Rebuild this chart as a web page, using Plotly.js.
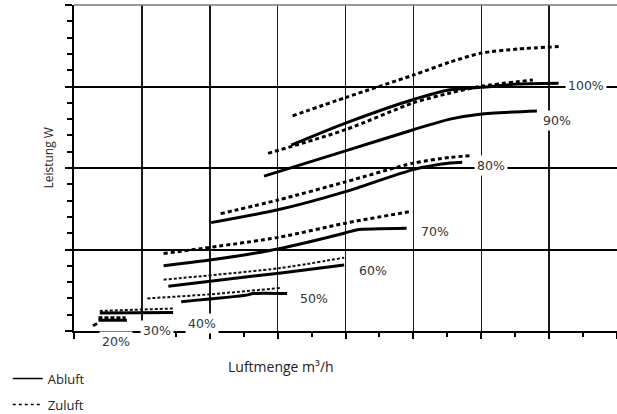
<!DOCTYPE html>
<html>
<head>
<meta charset="utf-8">
<script src="https://cdn.plot.ly/plotly-3.0.1.min.js"></script>
<style>html,body{margin:0;padding:0;background:#fff;}#chart{width:617px;height:414px;}</style>
</head>
<body>
<div id="chart"></div>
<script>
// Abluft (solid) and Zuluft (dotted) curves per fan level; x = Luftmenge m³/h, y = Leistung W
const ab100x = [160, 200, 250, 277, 300, 327, 357];
const ab100y = [114, 127.5, 142, 148, 149.5, 151.5, 152];
const zu100x = [161, 201, 250, 277, 300, 327, 357];
const zu100y = [132, 143.5, 157, 165, 170.5, 173, 174.5];
const ab90x = [140, 200, 250, 277, 299, 341];
const ab90y = [95, 110.5, 123.5, 130, 133, 135];
const zu90x = [143, 200, 250, 277, 299, 338];
const zu90y = [109, 123.5, 140, 146, 150, 154];
const ab80x = [101, 151, 200, 250, 277, 286];
const ab80y = [66.5, 74.5, 85.5, 99, 103, 103.5];
const zu80x = [108, 151, 200, 250, 277, 292];
const zu80y = [72, 80.5, 91.5, 103, 106.5, 107.5];
const ab70x = [66, 100, 151, 199, 208, 245];
const ab70y = [40, 43.5, 50.5, 60, 62, 63];
const zu70x = [66, 151, 199, 249];
const zu70y = [47.5, 57.5, 66, 73.5];
const ab60x = [69.5, 151, 199];
const ab60y = [27.5, 35.5, 40.5];
const zu60x = [66, 151, 199];
const zu60y = [31.5, 38.5, 45];
const ab50x = [79, 127, 132, 157];
const ab50y = [18, 22, 23, 23];
const zu50x = [54, 100, 153];
const zu50y = [20, 22.5, 26.5];
const ab40x = [19, 73];
const ab40y = [11, 11.3];
const zu40x = [19, 73];
const zu40y = [12.3, 13.8];
const ab30x = [18, 39];
const ab30y = [6.6, 6.6];
const zu30x = [18, 38];
const zu30y = [8.2, 8.2];
const ab20x = [14, 17];
const ab20y = [3.2, 4.6];

const levelLabels = ['100%', '90%', '80%', '70%', '60%', '50%', '40%', '30%', '20%'];
const labelX = [377, 355.5, 307, 266, 220, 176.5, 94, 61, 31];
const labelY = [150.6, 129, 101.5, 61.2, 37.3, 20.1, 4.7, 0.4, 0];
const labelShift = [0, 0, 0, 0, 0, 0, 0, 0, -10];

const solid = {color: '#000', width: 3, shape: 'spline', smoothing: 0.7};
const dotted = {color: '#000', width: 3, dash: '4px,3px', shape: 'spline', smoothing: 0.7};
const thinDash = {color: '#111', width: 2, dash: '3px,2px', shape: 'spline', smoothing: 0.7};
const bumpDash = {color: '#000', width: 3, dash: '4px,2px'};

function tr(x, y, line) {
  return {type: 'scatter', mode: 'lines', x: x, y: y, line: line, showlegend: false, hoverinfo: 'skip'};
}

const traces = [
  tr(zu100x, zu100y, dotted), tr(ab100x, ab100y, solid),
  tr(zu90x, zu90y, dotted), tr(ab90x, ab90y, solid),
  tr(zu80x, zu80y, dotted), tr(ab80x, ab80y, solid),
  tr(zu70x, zu70y, dotted), tr(ab70x, ab70y, solid),
  tr(zu60x, zu60y, thinDash), tr(ab60x, ab60y, solid),
  tr(zu50x, zu50y, thinDash), tr(ab50x, ab50y, solid),
  tr(zu40x, zu40y, thinDash), tr(ab40x, ab40y, solid),
  tr(zu30x, zu30y, bumpDash), tr(ab30x, ab30y, solid),
  tr(ab20x, ab20y, {color: '#000', width: 3}),
  {type: 'scatter', mode: 'lines', x: [null], y: [null], name: 'Abluft', legendgroup: 'a',
   line: {color: '#000', width: 1.5}, showlegend: true, hoverinfo: 'skip'},
  {type: 'scatter', mode: 'lines', x: [null], y: [null], name: 'Zuluft', legendgroup: 'z',
   line: {color: '#000', width: 1.5, dash: '3px,3px'}, showlegend: true, hoverinfo: 'skip'}
];

const annotations = levelLabels.map((t, i) => ({
  text: t, x: labelX[i], y: labelY[i], yshift: labelShift[i], xref: 'x', yref: 'y', showarrow: false,
  bgcolor: '#fff', borderpad: 2,
  font: {family: 'DejaVu Sans', size: 12.5, color: '#333'}
}));
annotations.push({
  text: 'Leistung W', xref: 'paper', yref: 'paper', x: -0.066, y: 0.531, textangle: -90,
  showarrow: false, font: {family: 'Open Sans', size: 12, color: '#222'}
});
annotations.push({
  text: 'Luftmenge m³/h', xref: 'paper', yref: 'paper', x: 0.381, y: -0.144,
  showarrow: false, font: {family: 'Open Sans', size: 14, color: '#222'}
});

const layout = {
  width: 617, height: 414,
  margin: {l: 74, r: 0, t: 5, b: 83, pad: 0, autoexpand: false},
  paper_bgcolor: '#fff', plot_bgcolor: '#fff',
  xaxis: {
    range: [0, 400], tick0: 0, dtick: 50, showticklabels: false,
    showgrid: true, gridcolor: '#1a1a1a', gridwidth: 1.5,
    showline: true, linecolor: '#000', linewidth: 2, zeroline: false,
    ticks: 'outside', ticklen: 6, tickwidth: 2, tickcolor: '#000',
    minor: {dtick: 25, ticks: 'outside', ticklen: 4, tickwidth: 2, tickcolor: '#000', showgrid: false}
  },
  yaxis: {
    range: [0, 200], tick0: 0, dtick: 50, showticklabels: false,
    showgrid: true, gridcolor: '#000', gridwidth: 2,
    showline: true, linecolor: '#000', linewidth: 2, zeroline: false,
    ticks: 'outside', ticklen: 7, tickwidth: 2, tickcolor: '#000',
    minor: {dtick: 10, ticks: 'outside', ticklen: 5, tickwidth: 2, tickcolor: '#000', showgrid: false}
  },
  showlegend: true,
  legend: {
    x: -0.122, xanchor: 'left', y: -0.1, yanchor: 'top',
    font: {family: 'Open Sans', size: 13, color: '#222'},
    tracegroupgap: 6, traceorder: 'grouped', bgcolor: 'rgba(0,0,0,0)'
  },
  shapes: [{type: 'line', xref: 'paper', yref: 'paper', x0: 0, x1: 1, y0: 1, y1: 1,
            line: {color: '#777', width: 1.5}}],
  annotations: annotations
};

Plotly.newPlot('chart', traces, layout, {displayModeBar: false, staticPlot: true});
</script>
</body>
</html>
